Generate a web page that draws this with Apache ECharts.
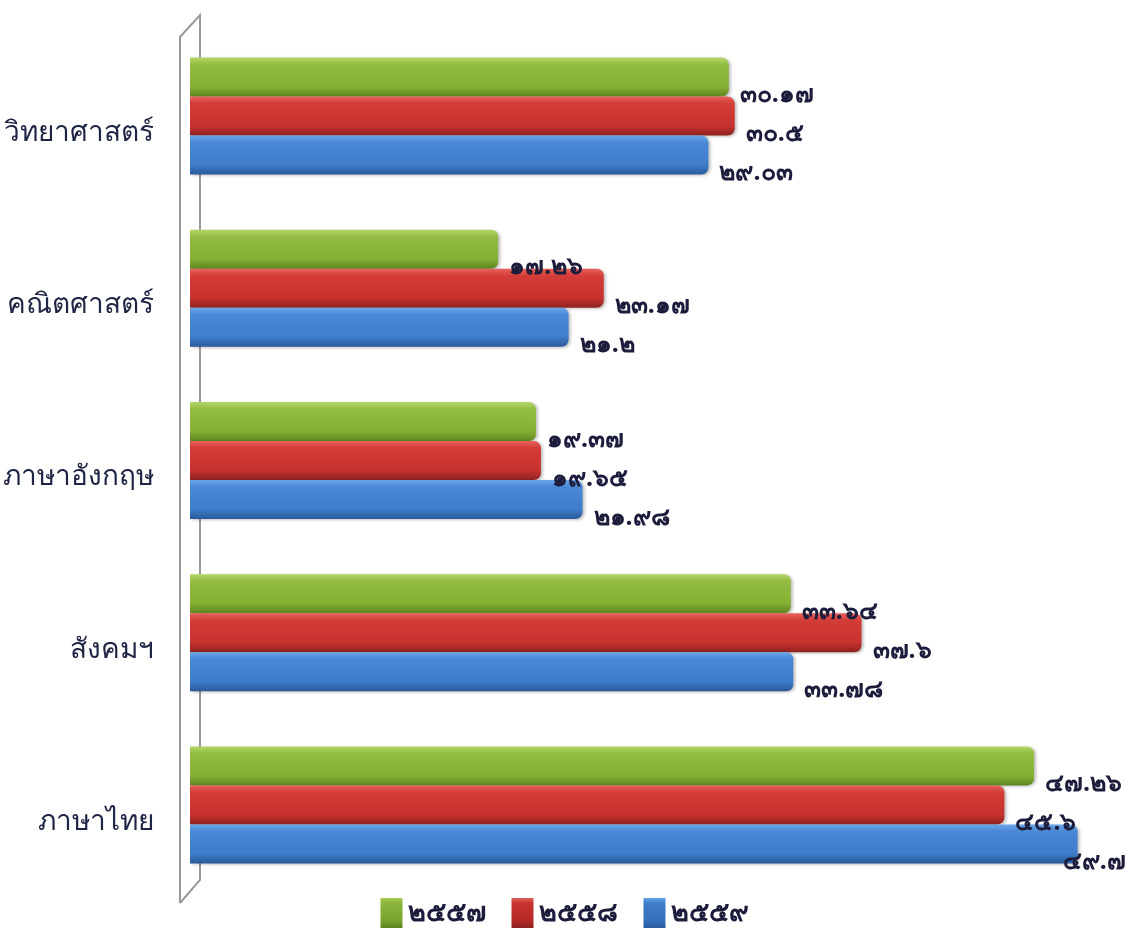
<!DOCTYPE html>
<html>
<head>
<meta charset="utf-8">
<script src="https://cdn.jsdelivr.net/npm/echarts@6/dist/echarts.min.js"></script>
<style>html,body{margin:0;padding:0;background:#fff}#c{width:1129px;height:939px}</style>
</head>
<body>
<div id="c"></div>
<script>
var categories = ['ภาษาไทย', 'สังคมฯ', 'ภาษาอังกฤษ', 'คณิตศาสตร์', 'วิทยาศาสตร์'];
var seriesNames = ['2557', '2558', '2559'];
var values2557 = [47.26, 33.64, 19.37, 17.26, 30.17];
var values2558 = [45.6, 37.6, 19.65, 23.17, 30.5];
var values2559 = [49.7, 33.78, 21.98, 21.2, 29.03];

var thaiDigits = ['๐','๑','๒','๓','๔','๕','๖','๗','๘','๙'];
function toThai(s){ return String(s).replace(/[0-9]/g, function(d){ return thaiDigits[+d]; }); }

function grad(c1, c2, c3, c4){
  return new echarts.graphic.LinearGradient(0,0,0,1,[
    {offset:0, color:c1},{offset:0.18, color:c2},{offset:0.75, color:c3},{offset:1, color:c4}
  ]);
}
var colors = [
  grad('#b4d66a','#93bd42','#86b034','#5e8420'),
  grad('#e8625c','#d33c37','#c8322e','#8e2220'),
  grad('#6aa6e8','#4a88d6','#3f7cc9','#2a5a9c')
];
var legendColors = [
  grad('#a6cc55','#8ab43a','#7aa430','#5e8420'),
  grad('#e0605a','#c8322e','#b52a27','#8e2220'),
  grad('#62a0e4','#3f7cc9','#3570bb','#2a5a9c')
];

var chart = echarts.init(document.getElementById('c'));
var data = [values2557, values2558, values2559];
var maxVal = Math.max.apply(null, values2557.concat(values2558, values2559));
var series = seriesNames.map(function(n, i){
  return {
    name: toThai(n),
    type: 'bar',
    data: data[i].map(function(v){
      return v === maxVal ? { value: v, label: { offset: [-20, 18] } } : v;
    }),
    barWidth: 39,
    barGap: '0%',
    itemStyle: { color: colors[i], borderRadius: [0,7,7,0], shadowColor:'rgba(0,0,0,0.25)', shadowBlur:3, shadowOffsetX:2, shadowOffsetY:1 },
    label: {
      show: true, position: 'right', offset: [6, 18],
      formatter: function(p){ return toThai(p.value); },
      fontSize: 25, fontWeight: 'bold', color: '#1c1c3c',
      fontFamily: 'Noto Sans, sans-serif'
    },
    z: 3
  };
});

chart.setOption({
  animation: false,
  backgroundColor: '#fff',
  grid: { left: 187, right: 46, top: 30, bottom: 48, containLabel: false },
  xAxis: { type: 'value', min: 0, max: 50, show: false },
  yAxis: {
    type: 'category', data: categories,
    axisLine: { show: false }, axisTick: { show: false },
    axisLabel: { margin: 36, fontSize: 28, color: '#1f2545', fontFamily: 'Noto Sans, sans-serif', verticalAlign: 'top', lineHeight: 34 }
  },
  legend: {
    bottom: 6, left: 'center', itemWidth: 22, itemHeight: 30, itemGap: 26,
    icon: 'rect',
    data: seriesNames.map(function(n, i){ return { name: toThai(n), itemStyle: { color: legendColors[i] } }; }),
    textStyle: { fontSize: 27, fontWeight: 'bold', color: '#1c1c3c', fontFamily: 'Noto Sans, sans-serif' }
  },
  graphic: [
    { type: 'polyline', z: 0, shape: { points: [[180,903],[180,37],[200,15],[200,880],[180,903]] }, style: { stroke: '#9a9a9a', lineWidth: 2, fill: null } }
  ],
  series: series
});
</script>
</body>
</html>
